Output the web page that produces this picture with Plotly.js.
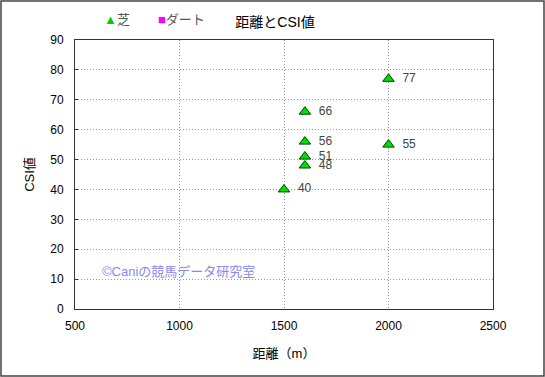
<!DOCTYPE html>
<html><head><meta charset="utf-8">
<script src="https://cdn.plot.ly/plotly-3.0.1.min.js"></script>
<style>body{margin:0;background:#fff}#c{width:545px;height:377px}</style>
</head><body><div id="c"></div>
<script>
const turfDist = [1500, 1600, 1600, 1600, 1600, 2000, 2000];
const turfCSI  = [40, 48, 51, 56, 66, 55, 77];
const dirtDist = [];
const dirtCSI  = [];
const seriesNames = ['芝', 'ダート'];
const xTicks = [500, 1000, 1500, 2000, 2500];
const yTicks = [0, 10, 20, 30, 40, 50, 60, 70, 80, 90];

const W = 545, H = 377, L = 75, R = 52, T = 40, B = 68;
const pw = W - L - R, ph = H - T - B;
const font = "'Liberation Sans', 'Noto Sans CJK JP', sans-serif";

const traces = [
  {x: turfDist, y: turfCSI, name: seriesNames[0], type: 'scatter', mode: 'markers+text',
   text: turfCSI.map(v => '  ' + v), textposition: 'middle right',
   textfont: {size: 12, color: '#444', family: font},
   marker: {symbol: 'triangle-up', size: 10, color: '#00dd00', line: {color: '#004400', width: 1}},
   cliponaxis: false, showlegend: false},
  {x: dirtDist.length ? dirtDist : [null], y: dirtCSI.length ? dirtCSI : [null], name: seriesNames[1], type: 'scatter', mode: 'markers',
   marker: {symbol: 'square', size: 8, color: '#ff00ff'}, showlegend: false}
];

const layout = {
  width: W, height: H,
  margin: {l: L, r: R, t: T, b: B, autoexpand: false},
  paper_bgcolor: '#fff', plot_bgcolor: '#fff',
  font: {family: font, size: 12, color: '#000'},
  title: {text: '距離とCSI値', x: 275/W, xref: 'container', xanchor: 'center', y: 1 - 22/H, yanchor: 'middle', font: {size: 14, color: '#000'}},
  showlegend: false,
  xaxis: {range: [500, 2500], tickvals: xTicks, ticktext: xTicks.map(String), showgrid: true,
          gridcolor: '#999', griddash: '1px,2px', gridwidth: 1, zeroline: false,
          showline: true, linecolor: '#333', linewidth: 1, mirror: true, ticks: '', ticklabelstandoff: 6,
          tickfont: {size: 12, color: '#000'},
          title: {text: '距離（m）', font: {size: 13, color: '#000'}, standoff: 16}},
  yaxis: {range: [0, 90], tickvals: yTicks, ticktext: yTicks.map(String), showgrid: true,
          gridcolor: '#999', griddash: '1px,2px', gridwidth: 1, zeroline: false,
          showline: true, linecolor: '#333', linewidth: 1, mirror: true, ticks: 'inside', ticklen: 3, tickcolor: '#333',
          ticklabelstandoff: 8,
          tickfont: {size: 12, color: '#000'},
          title: {text: 'CSI値', font: {size: 13, color: '#000'}, standoff: 12}},
  annotations: [
    {text: '<span style="color:#00cc00">▲</span>' + seriesNames[0], xref: 'paper', yref: 'paper',
     x: (102 - L)/pw, y: 1 + (T - 20)/ph, xanchor: 'left', yanchor: 'middle', showarrow: false,
     font: {size: 13, color: '#555'}},
    {text: '<span style="color:#ff00ff">■</span>' + seriesNames[1], xref: 'paper', yref: 'paper',
     x: (156 - L)/pw, y: 1 + (T - 20)/ph, xanchor: 'left', yanchor: 'middle', showarrow: false,
     font: {size: 13, color: '#555'}},
    {text: '©Caniの競馬データ研究室', xref: 'paper', yref: 'paper', x: (100 - L)/pw, y: (309 - 271)/ph,
     xanchor: 'left', yanchor: 'middle', showarrow: false, font: {size: 13, color: '#8888ee'}}
  ],
  shapes: [
    {type: 'rect', xref: 'paper', yref: 'paper', x0: -(L - 1)/pw, x1: (W - L - 1)/pw, y0: -(B - 1)/ph, y1: (H - B - 1)/ph,
     line: {color: '#444', width: 1.5}, fillcolor: 'rgba(0,0,0,0)', layer: 'below'}
  ]
};
Plotly.newPlot('c', traces, layout, {displayModeBar: false, staticPlot: true});
</script></body></html>
